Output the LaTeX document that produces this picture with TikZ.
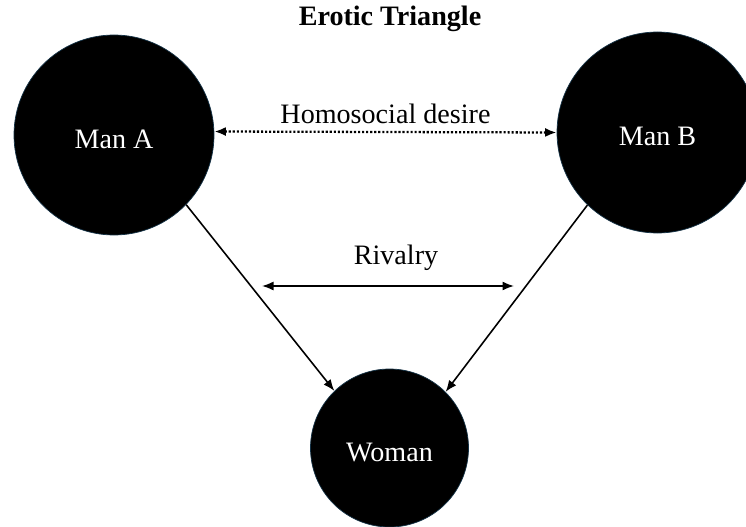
\documentclass[tikz,border=0pt]{standalone}
\usepackage{fontspec}
\setmainfont{Liberation Serif}
\usetikzlibrary{arrows.meta}
\definecolor{bordure}{RGB}{20,50,70}
\begin{document}
\begin{tikzpicture}[font=\fontsize{16}{19}\selectfont]

% définition des styles
\tikzstyle{cercle}=[circle,fill=black,draw=bordure,text=white,inner sep=0pt,text height=15pt,text depth=0pt]
\tikzstyle{fleche}=[{Latex[length=2.3mm,width=1.8mm]}-{Latex[length=2.3mm,width=1.8mm]},line width=0.9pt]
\tikzstyle{pointille}=[fleche,dash pattern=on 1.2pt off 1.1pt,line width=1.3pt]
\tikzstyle{lien}=[-{Latex[length=2.3mm,width=1.8mm]},line width=0.9pt]

% cadre
\useasboundingbox (0cm,0cm) rectangle (14.92cm,-10.54cm);

% titre
\node[font=\fontsize{16}{19}\selectfont\bfseries] (titre) at (7.8cm,-0.38cm){Erotic Triangle};

% les cercles
\node [cercle,minimum size=4cm] (manA) at (2.28cm,-2.7cm){Man A};
\node [cercle,minimum size=4.02cm] (manB) at (13.15cm,-2.65cm){Man B};
\node [cercle,minimum size=3.16cm] (woman) at (7.79cm,-8.96cm){Woman};
\coordinate (rivA) at (5.24cm,-5.72cm);
\coordinate (rivB) at (10.28cm,-5.72cm);

% les arcs
\draw[pointille] (manA.2) to node[above,yshift=0.3mm]{Homosocial desire} (manB.180);
\draw[fleche] (rivA) to node[above,yshift=1.7mm,xshift=1.6mm]{Rivalry} (rivB);
\draw[lien] (manA.-44) to (woman.134);
\draw[lien] (manB.-134) to (woman.45);

\end{tikzpicture}
\end{document}
